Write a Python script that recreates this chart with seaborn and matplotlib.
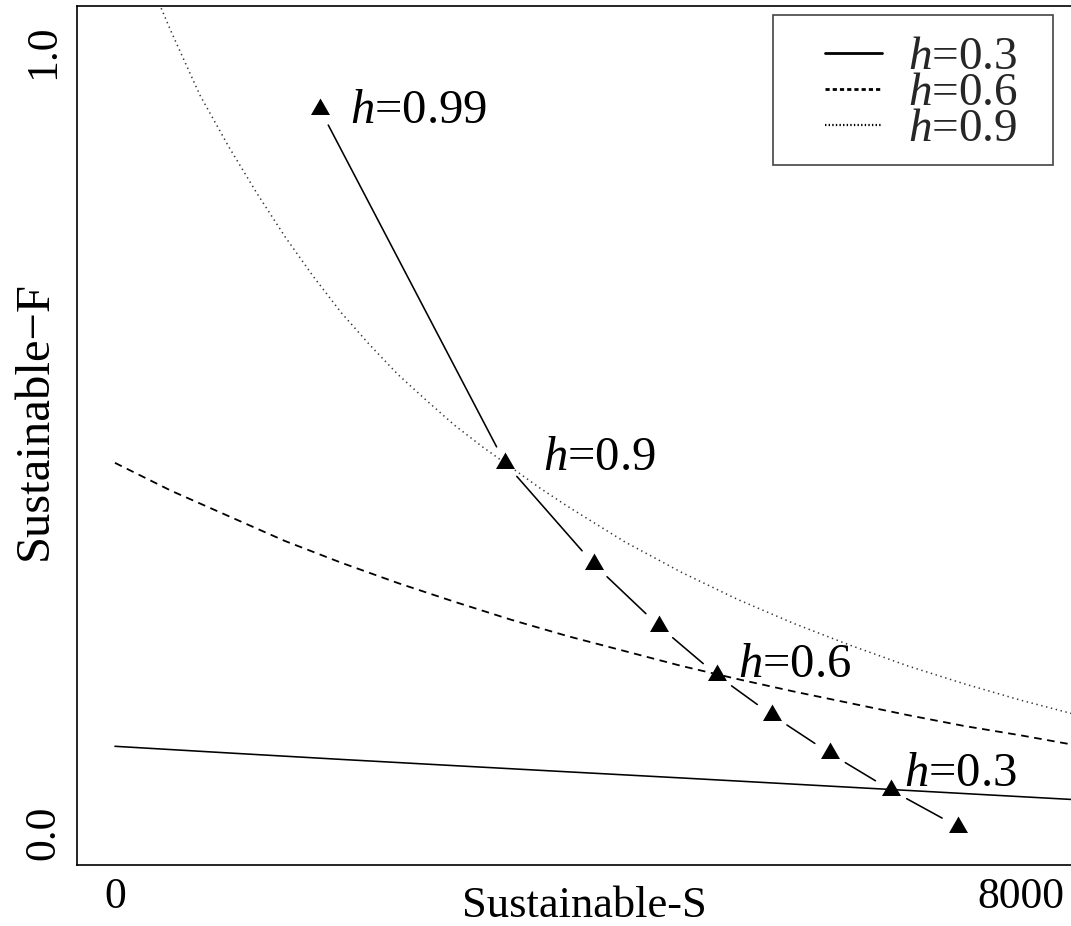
import numpy as np
import pandas as pd
import seaborn as sns
import matplotlib as mpl
import matplotlib.pyplot as plt
from matplotlib.lines import Line2D
from matplotlib.markers import MarkerStyle
from matplotlib.patches import Rectangle

# ---------------- data ----------------
# sustainable F vs sustainable S curves for three steepness values
S_h03 = [0, 1000, 2000, 3000, 4000, 5000, 6000, 7000, 8000, 8500]
F_h03 = [0.111, 0.1025, 0.0942, 0.0862, 0.0783, 0.0705, 0.0625, 0.0545, 0.0465, 0.0425]

S_h06 = [0, 500, 1000, 1500, 2000, 2500, 3000, 3500, 4000, 4500, 5000, 5500, 6000,
         6500, 7000, 7500, 8000, 8500, 8800]
F_h06 = [0.474, 0.438, 0.406, 0.374, 0.346, 0.320, 0.296, 0.273, 0.252, 0.233, 0.214,
         0.197, 0.181, 0.166, 0.151, 0.137, 0.125, 0.112, 0.105]

S_h09 = [0, 250, 500, 750, 1000, 1250, 1500, 1750, 2000, 2250, 2500, 2750, 3000, 3250,
         3500, 3750, 4000, 4500, 5000, 5500, 6000, 6500, 7000, 7500, 8000, 8500, 8800]
F_h09 = [1.207, 1.110, 1.025, 0.945, 0.880, 0.820, 0.764, 0.713, 0.666, 0.625, 0.587,
         0.554, 0.522, 0.494, 0.468, 0.442, 0.418, 0.373, 0.334, 0.299, 0.268, 0.240,
         0.214, 0.191, 0.170, 0.151, 0.141]

# triangle points (optimum for a range of h)
tri_S = [1810, 3444, 4230, 4804, 5316, 5801, 6313, 6852, 7444]
tri_F = [0.927, 0.474, 0.344, 0.265, 0.202, 0.151, 0.102, 0.055, 0.008]

# annotation labels and their anchor points (left edge, baseline)
ann_text = ["0.99", "0.9", "0.6", "0.3"]
ann_S = [2075, 3779, 5501, 6967]
ann_F = [0.909, 0.465, 0.200, 0.060]

legend_labels = ["0.3", "0.6", "0.9"]

x_ticks = [0, 2000, 4000, 6000, 8000]
x_ticklabels = ["0", "", "", "", "8000"]
y_ticks = [0.0, 0.2, 0.4, 0.6, 0.8, 1.0]
y_ticklabels = ["0.0", "", "", "", "", "1.0"]

# ---------------- style ----------------
sns.set_theme(style="white")
plt.rcParams['font.family'] = ['Liberation Serif', 'DejaVu Serif']
plt.rcParams['mathtext.fontset'] = 'custom'
plt.rcParams['mathtext.rm'] = 'Liberation Serif'
plt.rcParams['mathtext.it'] = 'Liberation Serif:italic'
plt.rcParams['lines.scale_dashes'] = False

FS_TICK = 31.5
FS_ANN = 35

fig = plt.figure(figsize=(10.71, 9.26), dpi=100)
W, H = 1071, 926
ax = fig.add_axes([77 / W, 1 - 865 / H, (1103 - 77) / W, (865 - 6) / H])
ax.set_xlim(-335, 8725)
ax.set_ylim(-0.041, 1.059)

lw = 1.15
sns.lineplot(x=S_h03, y=F_h03, ax=ax, color='black', lw=lw, sort=False, estimator=None)
sns.lineplot(x=S_h06, y=F_h06, ax=ax, color='black', lw=1.3, sort=False, estimator=None,
             linestyle=(0, (5.5, 4.0)))
sns.lineplot(x=S_h09, y=F_h09, ax=ax, color='#333333', lw=1.1, sort=False, estimator=None,
             linestyle=(0, (1.0, 2.6)))

# triangles
tri_verts = np.array([(0, 1), (-0.866, -0.5), (0.866, -0.5), (0, 1)])
sns.scatterplot(x=tri_S, y=tri_F, ax=ax, marker=MarkerStyle(tri_verts), s=15.8 ** 2,
                color='black', linewidth=0, zorder=5)

# connecting segments with gaps around points (R type="b")
gap = 18.0
pts = ax.transData.transform(np.column_stack([tri_S, tri_F]))
inv = ax.transData.inverted()
for i in range(len(pts) - 1):
    p, q = pts[i], pts[i + 1]
    d = q - p
    L = np.hypot(*d)
    u = d / L
    seg = inv.transform(np.array([p + u * gap, q - u * gap]))
    sns.lineplot(x=seg[:, 0], y=seg[:, 1], ax=ax, color='black', lw=lw,
                 sort=False, estimator=None)

for t, sx, fy in zip(ann_text, ann_S, ann_F):
    ax.text(sx, fy, r"$h$=" + t, fontsize=FS_ANN, ha='left', va='baseline', color='black')

# axes cosmetics
ax.set_xticks(x_ticks)
ax.set_xticklabels(x_ticklabels)
ax.set_yticks(y_ticks)
ax.set_yticklabels(y_ticklabels, rotation=90, va='center')
ax.tick_params(axis='both', direction='in', length=19.5, width=1.0, color='black',
               labelsize=FS_TICK, labelcolor='black')
ax.tick_params(axis='x', pad=9)
ax.tick_params(axis='y', pad=10)
for sp in ax.spines.values():
    sp.set_color('black')
    sp.set_linewidth(1.2)

ax.set_xlabel("Sustainable-S", fontsize=32, color='black')
ax.set_ylabel("Sustainable\u2212F", fontsize=35, color='black')
ax.xaxis.set_label_coords(0.495, -0.0245)
ax.yaxis.set_label_coords(-0.0195, 0.517)

# legend (frame drawn separately to mimic R's legend box)
handles = [Line2D([], [], color='black', lw=2.0, ls='-'),
           Line2D([], [], color='black', lw=2.0, ls=(0, (3.0, 2.2))),
           Line2D([], [], color='black', lw=1.6, ls=(0, (1.0, 1.6)))]
FS_LEG = 34
fs_px = FS_LEG * 100 / 72
bp = 0.45
leg = ax.legend(handles, [r"$h$=" + l for l in legend_labels],
                loc='upper left',
                bbox_to_anchor=((825 - bp * fs_px) / W, 1 - 15 / H),
                bbox_transform=fig.transFigure,
                fontsize=FS_LEG, frameon=False, borderaxespad=0,
                borderpad=bp, handlelength=57 / fs_px, handletextpad=26 / fs_px,
                labelspacing=-0.15)
fig.patches.append(Rectangle((773 / W, 1 - 165 / H), (1053 - 773) / W, 150 / H,
                             transform=fig.transFigure, fill=False,
                             edgecolor='#444444', lw=1.2, zorder=10))

fig.savefig("out.png", dpi=100)
